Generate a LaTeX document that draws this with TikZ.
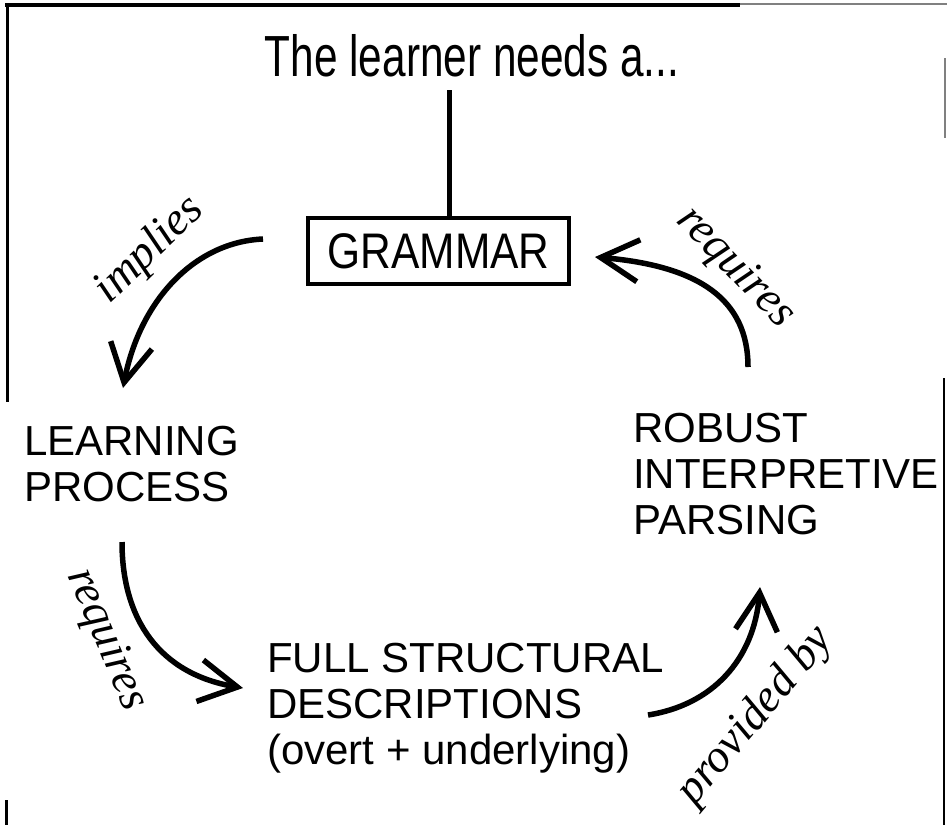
\documentclass[tikz,border=0pt]{standalone}
\usepackage{fontspec}
\setmainfont{Liberation Sans}
\newfontfamily\lblfont{Liberation Serif}
\usetikzlibrary{arrows.meta}
\tikzset{
  conn/.style={line width=5.5pt, -{Straight Barb[length=38pt,width=42pt]}},
  lbl/.style={font=\lblfont\itshape\fontsize{46}{48}\selectfont, inner sep=0pt},
  concept/.style={font=\fontsize{42}{46}\selectfont, inner sep=0pt, anchor=base west},
  framel/.style={line width=3pt},
}
\begin{document}
\begin{tikzpicture}[x=1pt, y=-1pt]
\useasboundingbox[fill=white] (0,0) rectangle (947,825);
% scan frame remnants
\draw[framel, line width=3.5pt] (5,5) -- (740,5);
\draw[line width=2pt, gray] (740,4) -- (947,4);
\draw[framel] (7,3.5) -- (7,402);
\draw[framel] (6,800) -- (6,825);
\draw[line width=1.5pt, gray] (945,58) -- (945,138);
\draw[framel, line width=2.5pt] (944,378) -- (944,825);

% title and grammar
\node[anchor=base, inner sep=0pt] (title) at (472,76) {\fontsize{58}{60}\selectfont\scalebox{0.73}[1]{The learner needs a...}};
\node[draw, line width=4.5pt, minimum width=261pt, minimum height=66pt, inner sep=0pt,
      font=\fontsize{50}{52}\selectfont] (grammar) at (438.5,251) {\scalebox{0.85}[1]{GRAMMAR}};
\coordinate (ltop) at (449,90);
\draw[line width=5pt] (ltop) -- (ltop |- grammar.north);

% concepts
\node[concept] (learn) at (24,455) {\begin{tabular}[t]{@{}l@{}}LEARNING\\PROCESS\end{tabular}};
\node[concept] (parse) at (633,442) {\begin{tabular}[t]{@{}l@{}}ROBUST\\INTERPRETIVE\\PARSING\end{tabular}};
\node[concept] (full) at (267,672) {\begin{tabular}[t]{@{}l@{}}FULL STRUCTURAL\\DESCRIPTIONS\\(overt + underlying)\end{tabular}};

% arrows
\coordinate (impS) at (263,239);
\coordinate (impE) at (123,388);
\draw[conn] (impS) .. controls (195,242) and (140,300) .. (impE);
\coordinate (rqaS) at (748,367);
\coordinate (rqaE) at (595,257);
\draw[conn] (rqaS) .. controls (748,300) and (700,266) .. (rqaE);
\coordinate (rqbS) at (122,542);
\coordinate (rqbE) at (243,688);
\draw[conn] (rqbS) .. controls (122,620) and (160,674) .. (rqbE);
\coordinate (pbS) at (648,715);
\coordinate (pbE) at (760,587);
\draw[conn] (pbS) .. controls (712,705) and (754,660) .. (pbE);

% labels
\node[lbl, rotate=44] (limp) at (150,250) {implies};
\node[lbl, rotate=-46] (lrqa) at (735,268) {requires};
\node[lbl, rotate=-67] (lrqb) at (106,640) {requires};
\node[lbl, rotate=50] (lpb) at (756,716) {provided by};
\end{tikzpicture}
\end{document}
